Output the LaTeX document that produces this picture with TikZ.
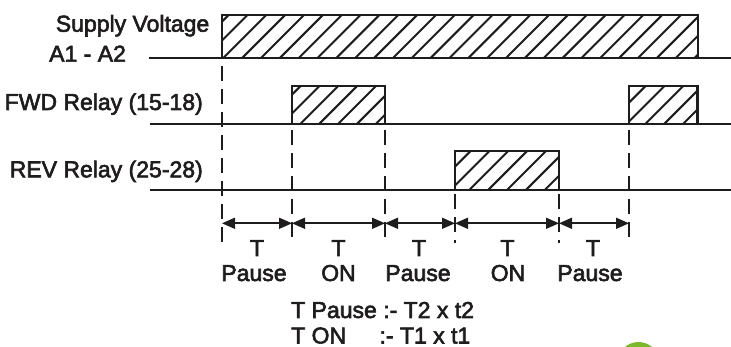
\documentclass[tikz,border=0pt]{standalone}
\usepackage{fontspec}
\setmainfont{Liberation Sans}
\newfontfamily\lblfont{Liberation Sans}[FakeBold=2.6]
\usetikzlibrary{arrows.meta}
\definecolor{ink}{RGB}{30,28,29}
\definecolor{logo}{RGB}{122,185,41}
\newcommand\hatchbox[5]{%
  \begin{scope}
    \clip (#1,#2) rectangle (#3,#4);
    \foreach \k in {-4,...,30} { \draw[hatch] ({#1+#5+\k*18.85},#4) -- ++(70,-70); }
  \end{scope}
  \draw[edge] (#1,#4) -- (#1,#2) -- (#3,#2) -- (#3,#4);
}
\begin{document}
\begin{tikzpicture}[x=1pt,y=-1pt,
  lbl/.style={inner sep=0pt, font=\lblfont\fontsize{23}{26}\selectfont, text=ink},
  sig/.style={line width=2pt, draw=ink},
  edge/.style={line width=2.2pt, draw=ink, line join=miter},
  hatch/.style={line width=2pt, draw=ink},
  guide/.style={line width=1.8pt, draw=ink, dash pattern=on 15pt off 8pt},
  dim/.style={line width=1.6pt, draw=ink, {Triangle[length=13pt,width=11pt]}-{Triangle[length=13pt,width=11pt]}}
]
\useasboundingbox (0,0) rectangle (731,347);

% row labels
\node[lbl, anchor=base east] (lsup) at (209.5,31.7) {Supply Voltage};
\node[lbl, anchor=base west] (la12) at (49,61.7) {A1 - A2};
\node[lbl, anchor=base east] (lfwd) at (203,110) {FWD Relay (15-18)};
\node[lbl, anchor=base east] (lrev) at (203,177.3) {REV Relay (25-28)};

% baselines
\coordinate (b1s) at (149,58);    \coordinate (b1e) at (731,58);
\coordinate (b2s) at (150,124.3); \coordinate (b2e) at (731,124.3);
\coordinate (b3s) at (150,190);   \coordinate (b3e) at (731,190);
\draw[sig] (b1s) -- (b1e);
\draw[sig] (b2s) -- (b2e);
\draw[sig] (b3s) -- (b3e);

% hatched pulses
\hatchbox{222}{14.7}{698}{58}{1.3}
\hatchbox{292}{85.7}{385}{124.3}{8}
\hatchbox{629}{85.7}{697.5}{124.3}{16}
\hatchbox{455}{150.7}{559}{190}{14.3}

% guide lines
\coordinate (g1t) at (222,58);    \coordinate (g1b) at (222,243);
\coordinate (g2t) at (292,124.3); \coordinate (g2b) at (292,243);
\coordinate (g3t) at (385,124.3); \coordinate (g3b) at (385,243);
\coordinate (g4t) at (455,190);   \coordinate (g4b) at (455,243);
\coordinate (g5t) at (559,190);   \coordinate (g5b) at (559,243);
\coordinate (g6t) at (629,124.3); \coordinate (g6b) at (629,243);
\draw[guide, dash phase=-8pt] (g1t) -- (g1b);
\draw[guide, dash phase=-6pt] (g2t) -- (g2b);
\draw[guide, dash phase=-6pt] (g3t) -- (g3b);
\draw[guide, dash phase=-4pt] (g4t) -- (g4b);
\draw[guide, dash phase=-4pt] (g5t) -- (g5b);
\draw[guide, dash phase=-6pt] (g6t) -- (g6b);

% dimension arrows
\coordinate (a1) at (222,223.3);
\coordinate (a2) at (292,223.3);
\coordinate (a3) at (385,223.3);
\coordinate (a4) at (455,223.3);
\coordinate (a5) at (559,223.3);
\coordinate (a6) at (629,223.3);
\draw[dim] (a1) -- (a2);
\draw[dim] (a2) -- (a3);
\draw[dim] (a3) -- (a4);
\draw[dim] (a4) -- (a5);
\draw[dim] (a5) -- (a6);

% interval labels
\node[lbl, anchor=base] (t1) at (257,256) {T};
\node[lbl, anchor=base] (p1) at (254,281) {Pause};
\node[lbl, anchor=base] (t2) at (338.5,256) {T};
\node[lbl, anchor=base] (p2) at (338.5,281) {ON};
\node[lbl, anchor=base] (t3) at (419,256) {T};
\node[lbl, anchor=base] (p3) at (418,281) {Pause};
\node[lbl, anchor=base] (t4) at (507.5,256) {T};
\node[lbl, anchor=base] (p4) at (508,281) {ON};
\node[lbl, anchor=base] (t5) at (593,256) {T};
\node[lbl, anchor=base] (p5) at (590,281) {Pause};

% legend
\node[lbl, anchor=base west] (leg1) at (291,318) {T Pause :- T2 x t2};
\node[lbl, anchor=base west] (leg2a) at (291,343.5) {T ON};
\node[lbl, anchor=base east] (leg2b) at (470.5,343.5) {:- T1 x t1};

% logo fragment
\begin{scope}
  \clip (0,0) rectangle (731,347);
  \fill[logo] (638.5,363) circle (21);
\end{scope}
\end{tikzpicture}
\end{document}
